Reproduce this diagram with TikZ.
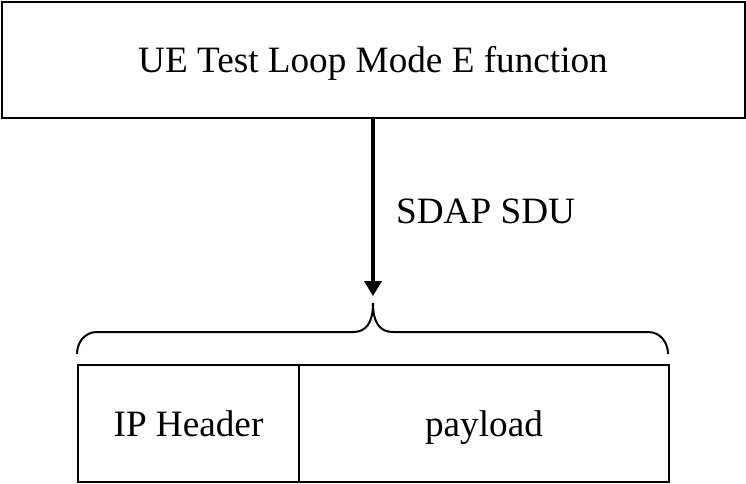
\documentclass[tikz,border=0pt]{standalone}
\usepackage{fontspec}
\setmainfont{Liberation Serif}
\usetikzlibrary{arrows.meta}
\begin{document}
\begin{tikzpicture}[x=1pt,y=-1pt,
  box/.style={draw=black,line width=2pt,inner sep=0pt,anchor=north west},
  txt/.style={inner sep=0pt,anchor=base,font=\fontsize{37.2}{44}\selectfont},
  flow/.style={line width=4.5pt,-{Triangle[length=15pt 0 0,width=17pt 0 0]}},
  bracepath/.style={line width=2pt}]
\useasboundingbox (0,0) rectangle (746,483);
% top box
\node[box,minimum width=743pt,minimum height=116pt] (ue) at (1,1) {};
\node[txt] (uetxt) at (373,72) {UE Test Loop Mode E function};
% arrow
\coordinate (tip) at (373,296);
\draw[flow] (ue.south -| tip) -- (tip);
\node[txt,anchor=base west] (sdu) at (396,223) {SDAP SDU};
% brace
\coordinate (bl) at (77,354);
\coordinate (bc) at (373,303);
\coordinate (br) at (668,354);
\draw[bracepath] (bl) .. controls (77,342) and (85,332) .. (97,332) -- (353,332)
  .. controls (366,332) and (373,323) .. (bc)
  .. controls (373,323) and (380,332) .. (393,332) -- (648,332)
  .. controls (660,332) and (668,342) .. (br);
% bottom boxes
\node[box,minimum width=221pt,minimum height=117pt] (iph) at (77,364) {};
\node[box,minimum width=370pt,minimum height=117pt] (pl) at (298,364) {};
\node[txt] (iphtxt) at (iph.center |- 0,436) {IP Header};
\node[txt] (pltxt) at (pl.center |- 0,436) {payload};
\end{tikzpicture}
\end{document}
